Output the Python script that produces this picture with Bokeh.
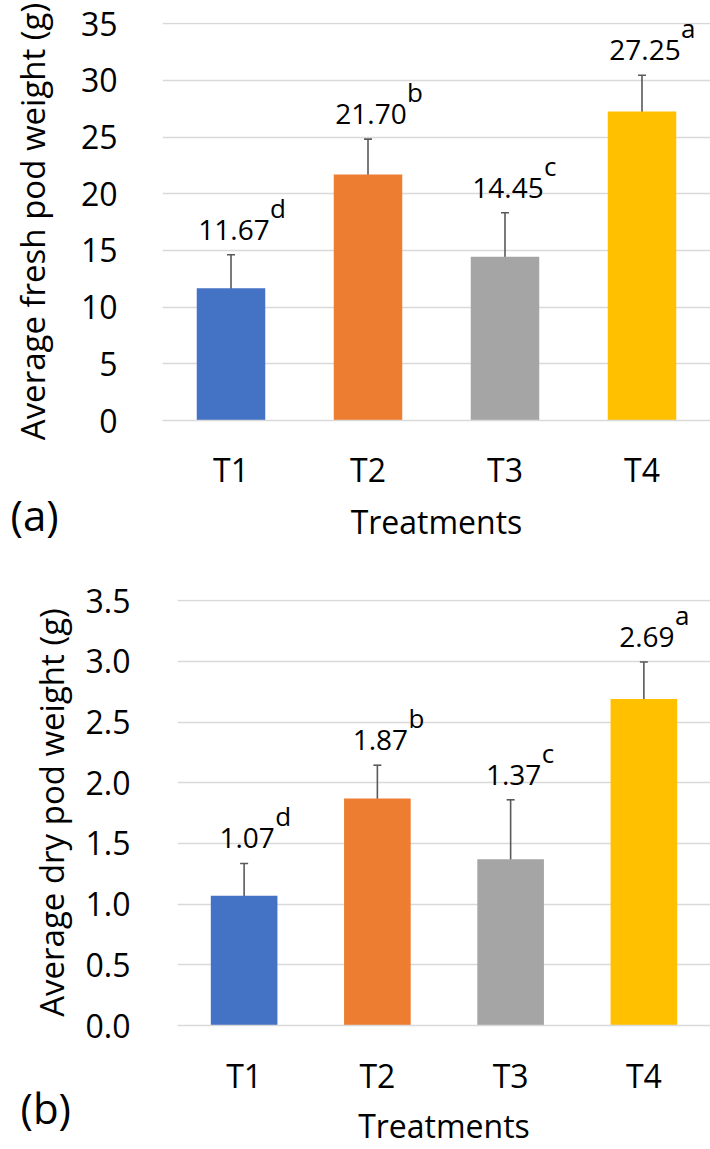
from bokeh.plotting import figure
from bokeh.models import ColumnDataSource, Whisker, Range1d, FactorRange, FixedTicker, Title, TeeHead
from bokeh.embed import file_html
from bokeh.resources import INLINE
from bokeh.core.properties import value

treatments = ["T1", "T2", "T3", "T4"]
fresh_mean = [11.67, 21.70, 14.45, 27.25]
fresh_err = [2.95, 3.12, 3.87, 3.20]
dry_mean = [1.07, 1.87, 1.37, 2.69]
dry_err = [0.265, 0.275, 0.49, 0.305]
letters = ["d", "b", "c", "a"]
colors = ["#4472C4", "#ED7D31", "#A5A5A5", "#FFC000"]
fresh_ticks = [0, 5, 10, 15, 20, 25, 30, 35]
fresh_tick_labels = ["0", "5", "10", "15", "20", "25", "30", "35"]
dry_ticks = [0.0, 0.5, 1.0, 1.5, 2.0, 2.5, 3.0, 3.5]
dry_tick_labels = ["0.0", "0.5", "1.0", "1.5", "2.0", "2.5", "3.0", "3.5"]

FONT = "Open Sans"


def panel(means, errs, ticks, tick_labels, ylabel, tag, height, b_left, b_top,
          b_bottom, tick_standoff, label_standoff, x_standoff, x_label_standoff,
          sup_dx, tag_offset, tag_standoff):
    src = ColumnDataSource(dict(
        x=treatments,
        top=means,
        upper=[m + e for m, e in zip(means, errs)],
        lower=[m - e for m, e in zip(means, errs)],
        color=colors,
        label=["%.2f" % m for m in means],
        letter=letters,
    ))
    span = ticks[-1] - ticks[0]
    p = figure(x_range=FactorRange(*treatments),
               y_range=Range1d(ticks[0], ticks[-1] + span * 0.003),
               width=710, height=height, output_backend="svg",
               toolbar_location=None, min_border_left=b_left,
               min_border_right=0, min_border_top=b_top,
               min_border_bottom=b_bottom)
    p.outline_line_color = None
    p.background_fill_color = "white"
    p.border_fill_color = "white"
    p.xgrid.grid_line_color = None
    p.ygrid.grid_line_color = "#D9D9D9"
    p.ygrid.grid_line_width = 1.3

    p.vbar(x="x", top="top", width=0.5, fill_color="color", line_color=None,
           source=src)
    head = dict(size=8, line_color="#595959", line_width=1.6)
    p.add_layout(Whisker(source=src, base="x", upper="upper", lower="lower",
                         line_color="#595959", line_width=1.6,
                         upper_head=TeeHead(**head), lower_head=TeeHead(**head)))
    p.text(x="x", y="upper", text="label", source=src,
           text_font=value(FONT), text_font_size="28px", text_color="black",
           text_align="center", text_baseline="alphabetic",
           x_offset=3, y_offset=-25)
    p.text(x="x", y="upper", text="letter", source=src,
           text_font=value(FONT), text_font_size="26px", text_color="black",
           text_align="left", text_baseline="alphabetic",
           x_offset=sup_dx, y_offset=-47)

    ya = p.yaxis[0]
    ya.ticker = FixedTicker(ticks=ticks)
    ya.major_label_overrides = {t: l for t, l in zip(ticks, tick_labels)}
    ya.axis_line_color = None
    ya.major_tick_line_color = None
    ya.minor_tick_line_color = None
    ya.major_tick_out = 0
    ya.major_tick_in = 0
    ya.minor_tick_out = 0
    ya.minor_tick_in = 0
    ya.major_label_text_font = FONT
    ya.major_label_text_font_size = "32px"
    ya.major_label_text_color = "black"
    ya.major_label_standoff = tick_standoff
    ya.axis_label = ylabel
    ya.axis_label_text_font = FONT
    ya.axis_label_text_font_size = "33px"
    ya.axis_label_text_font_style = "normal"
    ya.axis_label_text_color = "black"
    ya.axis_label_standoff = label_standoff

    xa = p.xaxis[0]
    xa.axis_line_color = "#D9D9D9"
    xa.axis_line_width = 1.3
    xa.major_tick_line_color = None
    xa.minor_tick_line_color = None
    xa.major_tick_out = 0
    xa.major_tick_in = 0
    xa.major_label_text_font = FONT
    xa.major_label_text_font_size = "32px"
    xa.major_label_text_color = "black"
    xa.major_label_standoff = x_standoff
    xa.axis_label = "Treatments"
    xa.axis_label_text_font = FONT
    xa.axis_label_text_font_size = "32px"
    xa.axis_label_text_font_style = "normal"
    xa.axis_label_text_color = "black"
    xa.axis_label_standoff = x_label_standoff

    p.add_layout(Title(text=tag, align="left", vertical_align="top",
                       offset=tag_offset, standoff=tag_standoff,
                       text_font=FONT, text_font_size="42px",
                       text_font_style="normal", text_color="black"), "below")
    return p


p1 = panel(fresh_mean, fresh_err, fresh_ticks, fresh_tick_labels,
           "Average fresh pod weight (g)", "(a)", 560, 162, 22, 140,
           45, 23, 27, 6, 39, -152, -120)
p2 = panel(dry_mean, dry_err, dry_ticks, dry_tick_labels,
           "Average dry pod weight (g)", "(b)", 589, 177, 39, 123,
           47, 9, 28, 4, 31, -157, -142)

open("out.html", "w").write(file_html([p1, p2], INLINE))
